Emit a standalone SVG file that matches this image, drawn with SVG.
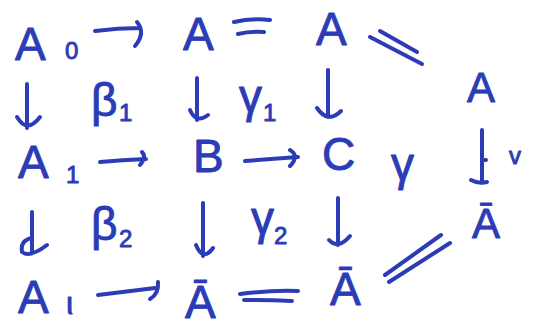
<svg xmlns="http://www.w3.org/2000/svg" width="539" height="329" viewBox="0 0 539 329">
<style>
.t{font-family:"Liberation Sans","DejaVu Sans",sans-serif;fill:#2b3cb6;stroke:#2b3cb6;stroke-width:0.9;stroke-linejoin:round}
.big{font-size:46px}
.mid{font-size:42px}
.gr{font-size:46px}
.sub{font-size:24px}
.c{fill:none;stroke:#2b3cb6;stroke-width:4;stroke-linecap:round;stroke-linejoin:round}
</style>
<rect width="539" height="329" fill="#ffffff"/>
<g id="A0"><text class="t big" x="15" y="60">A</text><text class="t sub" x="65" y="59">0</text></g>
<g id="A_top2"><text class="t big" x="183" y="50">A</text></g>
<g id="A_top3"><text class="t big" x="316" y="45">A</text></g>
<g id="A_right"><text class="t mid" x="467" y="102">A</text></g>
<g id="A1"><text class="t big" x="18" y="178">A</text><text class="t sub" x="66" y="183">1</text></g>
<g id="B"><text class="t big" x="193" y="172">B</text></g>
<g id="C"><text class="t big" x="322" y="170">C</text></g>
<g id="gamma"><text class="t gr" x="391" y="180">γ</text></g>
<g id="v_label"><text class="t sub" x="509" y="164">v</text></g>
<g id="Abar_right"><text class="t mid" x="472" y="238">Ā</text></g>
<g id="Aiota"><text class="t big" x="18" y="313">A</text><text class="t sub" x="66" y="314" style="font-size:32px">ι</text></g>
<g id="Abar_bot2"><text class="t big" x="185" y="318">Ā</text></g>
<g id="Abar_bot3"><text class="t big" x="330" y="305">Ā</text></g>
<g id="beta1"><text class="t gr" x="91" y="116">β</text><text class="t sub" x="119" y="121">1</text></g>
<g id="gamma1"><text class="t gr" x="239" y="112">γ</text><text class="t sub" x="263" y="121">1</text></g>
<g id="beta2"><text class="t gr" x="91" y="240">β</text><text class="t sub" x="119" y="247">2</text></g>
<g id="gamma2"><text class="t gr" x="251" y="234">γ</text><text class="t sub" x="274" y="244">2</text></g>
<g id="connectors" class="c">
<path d="M95,31 Q118,28 140,28 M137,22 Q146,33 135,46"/>
<path d="M234,22 Q252,18 270,20 M238,34 Q250,31 264,32"/>
<path d="M370,37 L422,64 M380,31 L417,52"/>
<path d="M27,84 L27,128 M17,117 Q27,134 40,117"/>
<path d="M197,78 L197,120 M190,110 Q196,124 208,115"/>
<path d="M328,70 L328,117 M317,108 Q328,124 341,111"/>
<path d="M100,162 Q122,160 146,159 M142,152 Q147,157 140,165"/>
<path d="M245,161 Q272,159 298,157 M290,150 Q300,156 290,166"/>
<path d="M482,130 L482,183 M471,180 Q478,184 487,182 M482,160 L486,160"/>
<path d="M32,212 L32,252 M32,238 Q20,240 22,252 Q30,258 47,245"/>
<path d="M203,203 L203,256 M196,245 Q203,262 213,248"/>
<path d="M338,198 L338,245 M329,240 Q338,250 350,236"/>
<path d="M98,295 Q130,291 155,288 M158,282 Q159,294 150,299"/>
<path d="M240,294 Q270,290 298,291 M244,300 Q270,300 292,301"/>
<path d="M385,275 L441,235 M389,282 L450,243"/>
</g>
</svg>
